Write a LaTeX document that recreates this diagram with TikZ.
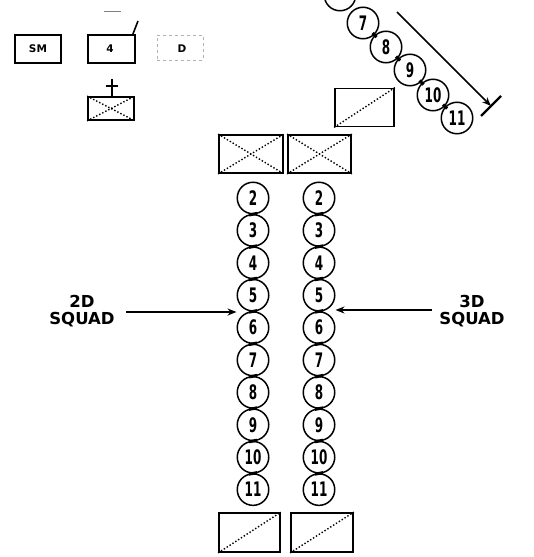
\documentclass[tikz,border=0pt]{standalone}
\usepackage{fontspec}
\setmainfont{DejaVu Sans}
\usetikzlibrary{arrows.meta,calc}
\tikzset{
  ln/.style={line width=1.6pt},
  man/.style={circle,draw,line width=1.5pt,minimum size=31.5pt,inner sep=0pt,
    font=\fontsize{20}{20}\selectfont\bfseries},
  joint/.style={line width=3pt},
  unit/.style={draw,line width=1.8pt,inner sep=0pt},
  xdiag/.style={line width=1.4pt,dotted},
  lbl/.style={font=\fontsize{16.5}{17.5}\selectfont\bfseries,align=center},
  small/.style={font=\fontsize{10.5}{10.5}\selectfont\bfseries},
}
\newcommand{\nm}[1]{\scalebox{0.6}[1]{#1}}
\begin{document}
\begin{tikzpicture}[x=1pt,y=-1pt]
\useasboundingbox (0,0) rectangle (534,557);
\begin{scope}
\clip (0,0) rectangle (534,557);
% top-left symbols
\node[unit,minimum width=46pt,minimum height=28pt] (b1) at (38,49) {};
\node[small] (t1) at (38,49) {SM};
\node[unit,minimum width=47pt,minimum height=28pt] (b2) at (111.5,49) {};
\node[small] (t2) at (110,49) {4};
\node[draw=gray!60,dashed,line width=1pt,minimum width=46pt,minimum height=25pt,inner sep=0pt] (b3) at (180,47.5) {};
\node[small] (t3) at (182,49) {D};
\coordinate (tk) at (138,21);
\draw[ln] (b2.north east) ++(-3,0) -- (tk);
\coordinate (tl1) at (104,11); \coordinate (tl2) at (121,11);
\draw[line width=1pt,gray] (tl1) -- (tl2);
% X box with cross
\node[unit,minimum width=46pt,minimum height=23pt] (xb) at (111,108.5) {};
\draw[xdiag] (xb.north west) -- (xb.south east) (xb.south west) -- (xb.north east);
\coordinate (cr1) at (112,79); \coordinate (cr2) at (112,96);
\coordinate (cr3) at (106,86); \coordinate (cr4) at (118,86);
\draw[ln] (cr1) -- (cr2) (cr3) -- (cr4);
% top X boxes of the columns
\node[unit,minimum width=64pt,minimum height=38pt] (lx) at (251,154) {};
\node[unit,minimum width=63pt,minimum height=38pt] (rx) at (319.5,154) {};
\foreach \b in {lx,rx}
  \draw[xdiag] (\b.north west) -- (\b.south east) (\b.south west) -- (\b.north east);
% columns
\foreach \n [count=\i from 0] in {2,...,11} {
  \node[man] (l\n) at (253,198+32.4*\i) {\nm{\n}};
  \node[man] (r\n) at (319,198+32.4*\i) {\nm{\n}};
}
\foreach \a/\b in {2/3,3/4,4/5,5/6,6/7,7/8,8/9,9/10,10/11} {
  \draw[joint] ($(l\a.south)+(-4,0.5)$) -- ($(l\b.north)+(4,-0.5)$);
  \draw[joint] ($(r\a.south)+(-4,0.5)$) -- ($(r\b.north)+(4,-0.5)$);
}
% bottom boxes
\node[unit,minimum width=61pt,minimum height=39pt] (lb) at (249.5,532.5) {};
\node[unit,minimum width=62pt,minimum height=39pt] (rb) at (322,532.5) {};
\foreach \b in {lb,rb}
  \draw[xdiag] (\b.south west) -- (\b.north east);
% top right diagonal box
\node[unit,minimum width=59pt,minimum height=38pt] (db) at (364.5,107.5) {};
\draw[xdiag] (db.south west) -- (db.north east);
% diagonal chain
\node[man] (d6) at (340,-5) {};
\node[man] (d7) at (363,23) {\nm{7}};
\node[man] (d8) at (386,47) {\nm{8}};
\node[man] (d9) at (410,70) {\nm{9}};
\node[man] (d10) at (433,95) {\nm{10}};
\node[man] (d11) at (457,118) {\nm{11}};
\foreach \a/\b in {d7/d8,d8/d9,d9/d10,d10/d11}
  \draw[joint] ($(\a)!0.5!(\b)+(-2,-2)$) -- ($(\a)!0.5!(\b)+(2,2)$);
% long line with arrow and bar
\coordinate (ls) at (397,12);
\coordinate (le) at (491,106);
\draw[ln,-{Stealth[length=9pt,width=7pt]}] (ls) -- (le);
\draw[line width=2.2pt] (le) ++(-10,10) -- ++(20,-20);
% squad labels and arrows
\node[lbl] (sq2) at (82,311) {2D\\SQUAD};
\node[lbl] (sq3) at (472,311) {3D\\SQUAD};
\coordinate (a2s) at (126,312); \coordinate (a3s) at (432,310);
\draw[ln,-{Stealth[length=9pt,width=7pt]}] (a2s) -- (l5.west|-a2s);
\draw[ln,-{Stealth[length=9pt,width=7pt]}] (a3s) -- (r5.east|-a3s);
\end{scope}
\end{tikzpicture}
\end{document}
